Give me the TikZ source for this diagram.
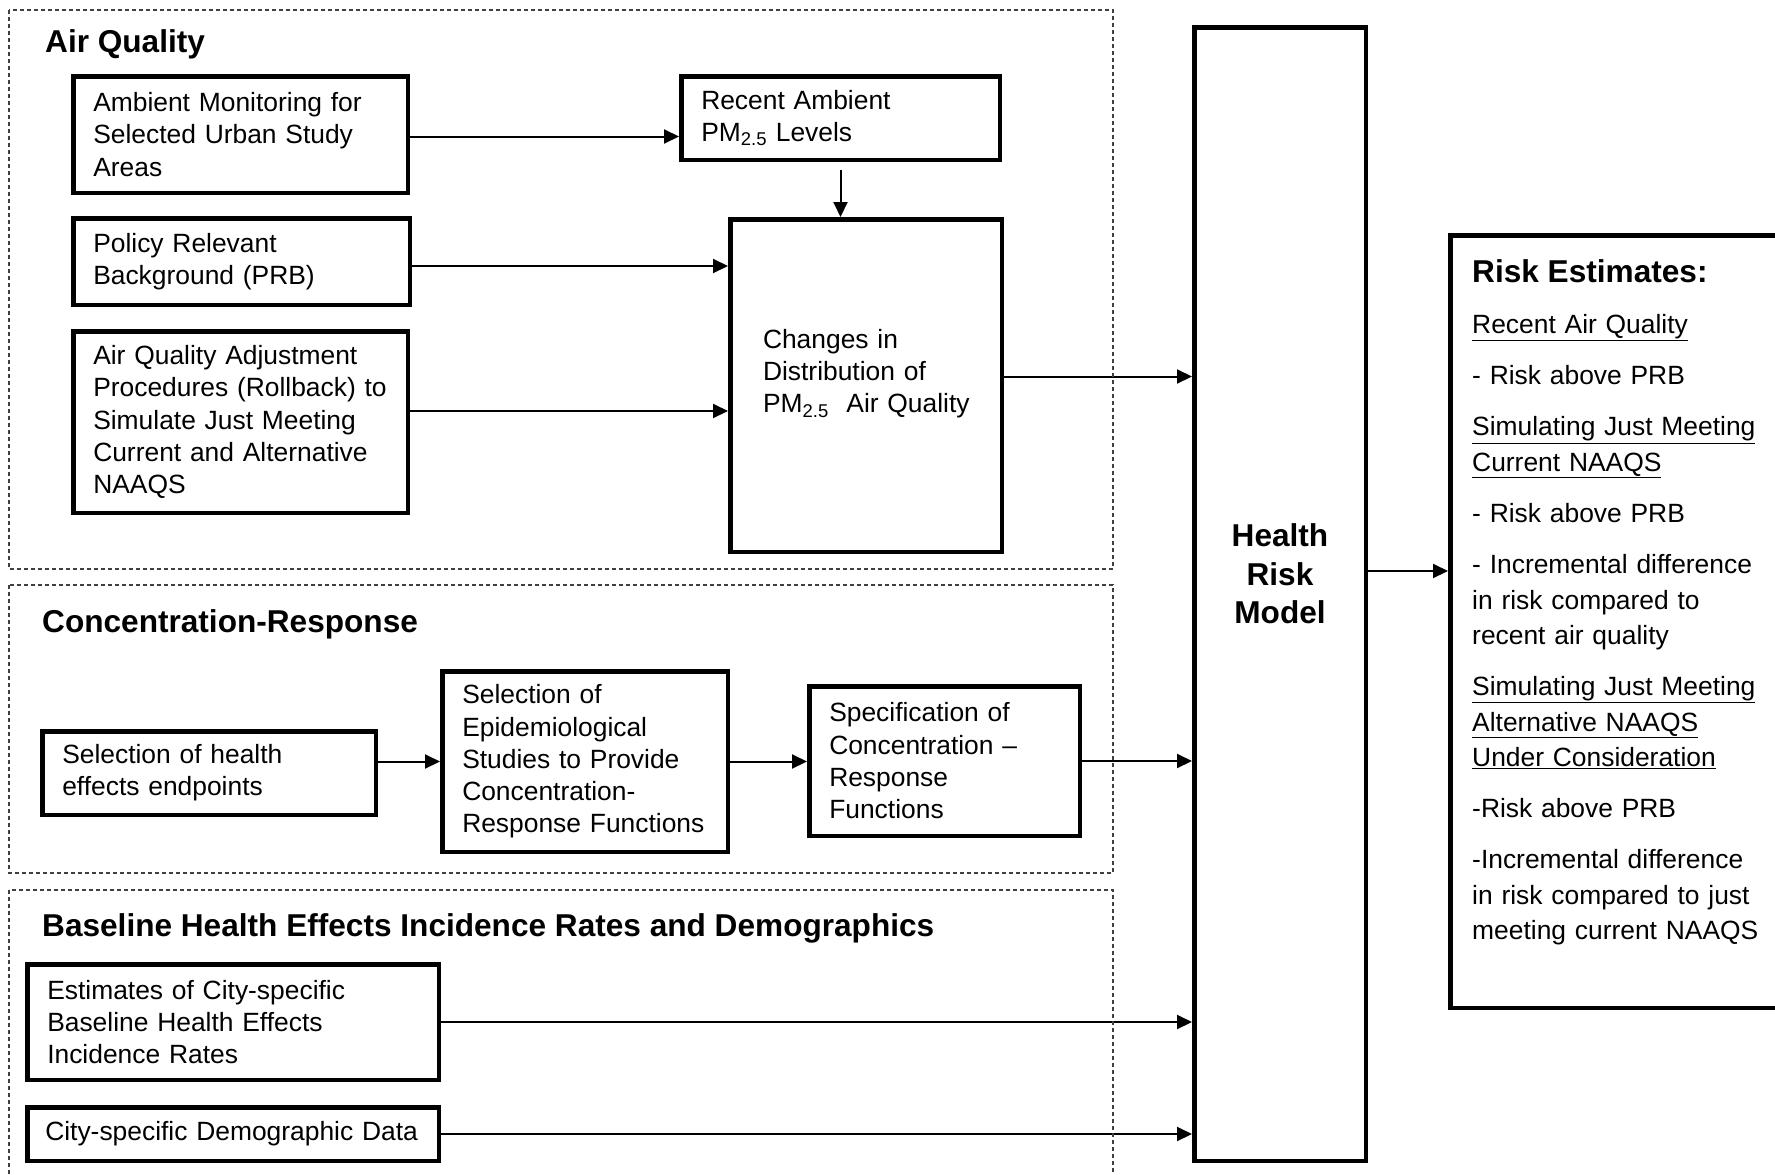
\documentclass[tikz,border=0pt]{standalone}
\usepackage{fontspec}
\setmainfont{Liberation Sans}
\usepackage{tikz}
\usetikzlibrary{positioning}
\usetikzlibrary{arrows.meta}

\newcommand{\boxfont}{\fontsize{26.4pt}{32.3pt}\selectfont}
\newcommand{\headfont}{\fontsize{31.6pt}{38.5pt}\selectfont\bfseries}
\newcommand{\riskfont}{\fontsize{26.4pt}{35.3pt}\selectfont}

\begin{document}
\begin{tikzpicture}[
                x = 1pt,
                y = -1pt,
                box/.style = {
                    draw,
                    line width = 4.5pt,
                    inner xsep = 20pt,
                    inner ysep = 0pt,
                    align = left,
                    font = \boxfont,
                    text width = #1
                },
                box/.default = 250pt,
                group/.style = {
                    draw = black!75,
                    line width = 1.5pt,
                    dash pattern = on 4pt off 3pt
                },
                head/.style = {inner sep = 0pt, font = \headfont},
                arrow/.style = {line width = 2pt, -{Triangle[length = 15pt, width = 14pt]}}
            ]
            \clip (0,0) rectangle (1775,1175);
            % 
            \node[box=294.5pt, minimum height = 116.5pt] (1) at (240.5,134.5) {Ambient Monitoring for\\Selected Urban Study\\Areas};
            \node[box=278.5pt, minimum height = 83.5pt] (2) at (840.5,118) {Recent Ambient\\PM\textsubscript{2.5} Levels};
            \node[box=296.5pt, minimum height = 86.5pt] (3) at (241.5,261.5) {Policy Relevant\\Background (PRB)};
            \node[box=294.5pt, minimum height = 181.5pt] (4) at (240.5,422) {Air Quality Adjustment\\Procedures (Rollback) to\\Simulate Just Meeting\\Current and Alternative\\NAAQS};
            \node[box=206pt, inner xsep = 0pt, minimum width = 271.5pt, minimum height = 332.5pt, text depth = 93.5pt] (5) at (866,385.5) {Changes in\\Distribution of\\\mbox{PM\textsubscript{2.5}\ \ Air Quality}};
            % 
            \node[box=293.5pt, minimum height = 83.5pt] (6) at (209,773) {Selection of health\\effects endpoints};
            \node[box=245.5pt, minimum height = 180.5pt] (7) at (585,761.5) {Selection of\\Epidemiological\\Studies to Provide\\Concentration-\\Response Functions};
            \node[box=230.5pt, minimum height = 149.5pt] (8) at (944.5,761) {Specification of\\Concentration --\\Response\\Functions};
            % 
            \node[box=371.5pt, minimum height = 115.5pt] (9) at (233,1022) {Estimates of City-specific\\Baseline Health Effects\\Incidence Rates};
            \node[box=375.5pt, inner xsep = 18pt, minimum height = 53.5pt] (10) at (233,1134) {City-specific Demographic Data};
            % 
            \node[box=131.5pt, align = center, font = \headfont, minimum height = 1133.5pt, text depth = 117pt] (11) at (1280,594) {Health\\Risk\\Model};
            % 
            \node[box=360pt, minimum height = 772.5pt, anchor = north west] (13) at (1448,233) {};
            \node[inner sep = 0pt, anchor = north west, align = left, text width = 320pt, font = \riskfont] (14) at ([xshift = 24pt, yshift = -26.4pt]13.north west) {{\headfont Risk Estimates:}\\[15.5pt]
                \underline{Recent Air Quality}\\[16pt]
                - Risk above PRB\\[16pt]
                \underline{Simulating Just Meeting}\\
                \underline{Current NAAQS}\\[16pt]
                - Risk above PRB\\[16pt]
                - Incremental difference\\
                in risk compared to\\
                recent air quality\\[16pt]
                \underline{Simulating Just Meeting}\\
                \underline{Alternative NAAQS}\\
                \underline{Under Consideration}\\[16pt]
                -Risk above PRB\\[16pt]
                -Incremental difference\\
                in risk compared to just\\
                meeting current NAAQS};
            % 
            \node[head, anchor = west] (15) at (45,44.5) {Air Quality};
            \node[head, anchor = west] (16) at (42,624) {Concentration-Response};
            \node[head, anchor = west] (17) at (42,928.5) {Baseline Health Effects Incidence Rates and Demographics};
            % 
            \draw[arrow] ([yshift = -2pt]1.east) -- ([yshift = -2pt]1.east -| 2.west);
            \draw[arrow] ([yshift = -8pt]2.south) -- (2.south |- 5.north);
            \draw[arrow] ([yshift = -4.5pt]3.east) -- ([yshift = -4.5pt]3.east -| 5.west);
            \draw[arrow] ([yshift = 11pt]4.east) -- ([yshift = 11pt]4.east -| 5.west);
            \draw[arrow] ([yshift = 9pt]5.east) -- ([yshift = 9pt]5.east -| 11.west);
            % 
            \draw[arrow] (6.east |- 7.west) -- (7.west);
            \draw[arrow] (7.east) -- (7.east -| 8.west);
            \draw[arrow] (8.east) -- (8.east -| 11.west);
            % 
            \draw[arrow] (9.east) -- (9.east -| 11.west);
            \draw[arrow] (10.east) -- (10.east -| 11.west);
            % 
            \draw[arrow] ([yshift = 23pt]11.east) -- ([yshift = 23pt]11.east -| 13.west);
            % 
            \draw[group] (9,10) rectangle (1113,569);
            \draw[group] (9,585) rectangle (1113,873);
            \draw[group] (9,890) rectangle (1113,1200);
            % 
        \end{tikzpicture}
\end{document}
